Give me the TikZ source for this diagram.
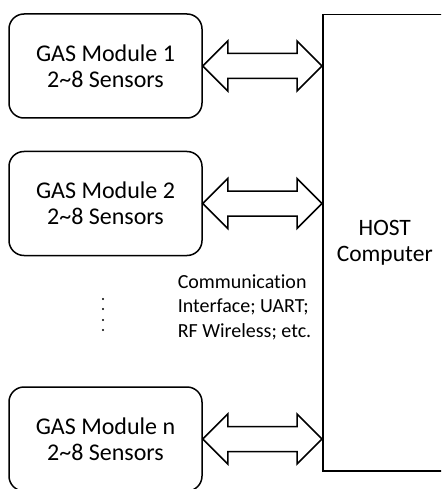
\documentclass[tikz,border=0pt]{standalone}
\usepackage{fontspec}
\setmainfont[Ligatures=NoCommon]{Carlito}
\usetikzlibrary{positioning,calc}

\begin{document}
\begin{tikzpicture}[x=1pt, y=-1pt, line width=1.5pt, node distance=32pt,
    module/.style={draw, rounded corners=15pt, minimum width=193pt, minimum height=104pt,
      inner sep=0pt, align=center, font=\fontsize{24}{26}\selectfont},
    link/.style={draw, line join=miter, fill=white}]
  \clip (0,0) rectangle (441,489);

  \node[module] (mod1) at (105.5,66) {GAS Module 1\\2\textasciitilde8 Sensors};
  \node[module, below=of mod1] (mod2) {GAS Module 2\\2\textasciitilde8 Sensors};
  \node[module, below=130pt of mod2] (modn) {GAS Module n\\2\textasciitilde8 Sensors};
  \node[draw, anchor=north west, minimum width=124pt, minimum height=456pt, inner sep=0pt,
    align=center, font=\fontsize{23.5}{26}\selectfont] (host) at (322,14) {HOST\\Computer};

  \node[anchor=west, inner sep=0pt, align=left, font=\fontsize{20}{24.5}\selectfont] (comm) at (177,307)
    {Communication\\Interface; UART;\\RF Wireless; etc.};

  % vertical dots between module 2 and module n
  \foreach \y in {299,309,320,330}
    \fill (103,\y) circle (1.1pt);

  % double arrows
  \foreach \m in {mod1,mod2,modn}
    \draw[link] (\m.east) -- ++(25,-25) -- ++(0,12.5)
      -- ($(\m.east -| host.west)+(-25,-12.5)$) -- ++(0,-12.5)
      -- (\m.east -| host.west) -- ++(-25,25) -- ++(0,-12.5)
      -- ($(\m.east)+(25,12.5)$) -- ++(0,12.5) -- cycle;
\end{tikzpicture}
\end{document}
